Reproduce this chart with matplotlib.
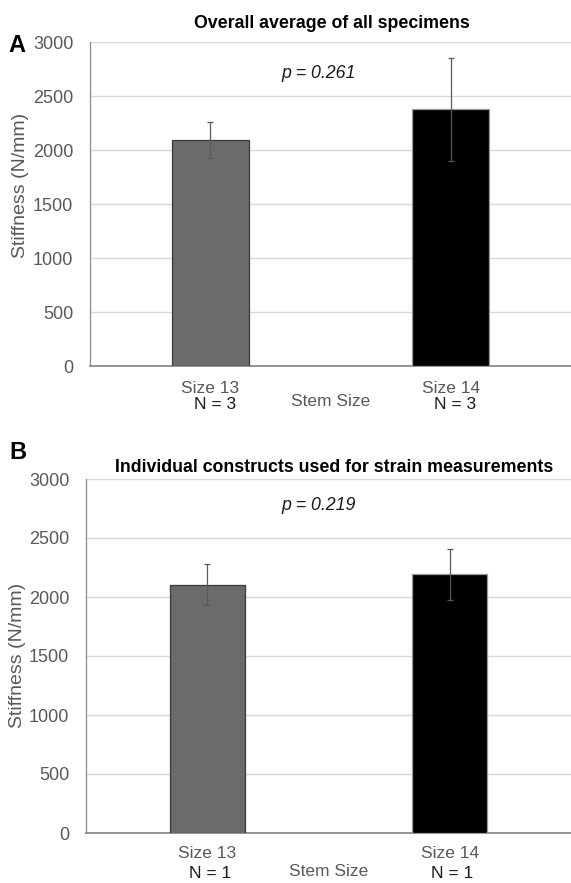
import numpy as np
import matplotlib
matplotlib.use("Agg")
import matplotlib.pyplot as plt

plt.rcParams['font.family'] = ['Liberation Sans', 'DejaVu Sans']

# --- datos ---
categorias = ["Size 13", "Size 14"]
n_a = ["N = 3", "N = 3"]
n_b = ["N = 1", "N = 1"]
rigidez_a = [2093, 2377]
error_a = [165, 475]
rigidez_b = [2104, 2191]
error_b = [175, 215]
colores = ["#6b6b6b", "#000000"]
bordes = ["#3a3a3a", "#9a9a9a"]
titulo_a = "Overall average of all specimens"
titulo_b = "Individual constructs used for strain measurements"
p_a = "p = 0.261"
p_b = "p = 0.219"

W, H = 571, 883
fig = plt.figure(figsize=(W / 100, H / 100), dpi=100)


def fx(x):
    return x / W


def fy(y):
    return 1 - y / H


gris = "#595959"


def panel(ax, valores, errores, ns, ancho, dy_size, dy_n, dx_n, dy_stem):
    x = np.arange(len(categorias))
    ax.bar(x, valores, width=ancho, color=colores, edgecolor=bordes, linewidth=0.9,
           yerr=errores, zorder=3,
           error_kw=dict(ecolor="#5a5a5a", elinewidth=0.9, capsize=2.5, capthick=0.9))
    ax.set_xlim(-0.5, 1.5)
    ax.set_ylim(0, 3000)
    ax.set_yticks(np.arange(0, 3001, 500))
    ax.yaxis.grid(True, color="#d9d9d9", linewidth=1.0)
    ax.set_axisbelow(True)
    ax.set_xticks([])
    ax.tick_params(axis='y', length=0, labelsize=13, labelcolor=gris, pad=12)
    for s in ["top", "right"]:
        ax.spines[s].set_visible(False)
    ax.spines["left"].set_color("#8c8c8c")
    ax.spines["left"].set_linewidth(0.9)
    ax.spines["bottom"].set_color("#8c8c8c")
    ax.spines["bottom"].set_linewidth(1.3)
    for i, (cat, n) in enumerate(zip(categorias, ns)):
        ax.annotate(cat, xy=(i, 0), xycoords=('data', 'axes fraction'),
                    xytext=(0, dy_size), textcoords='offset pixels',
                    ha='center', va='center', fontsize=12.5, color=gris)
        ax.annotate(n, xy=(i, 0), xycoords=('data', 'axes fraction'),
                    xytext=(dx_n if i == 0 else dx_n - 1, dy_n), textcoords='offset pixels',
                    ha='center', va='center', fontsize=12.5, color="#1a1a1a")
    ax.annotate("Stem Size", xy=(0.5, 0), xycoords='axes fraction',
                xytext=(0, dy_stem), textcoords='offset pixels',
                ha='center', va='center', fontsize=12.5, color=gris)


# Panel A
axA = fig.add_axes([fx(90), fy(366), fx(481), 324 / H])
panel(axA, rigidez_a, error_a, n_a, 0.32, -22, -38, 5, -35)

# Panel B
axB = fig.add_axes([fx(86), fy(833), fx(485), 354 / H])
panel(axB, rigidez_b, error_b, n_b, 0.31, -20, -41, 3, -39)

# textos
fig.text(fx(332), fy(23), titulo_a, ha='center', va='center', fontsize=12.8, fontweight='bold')
fig.text(fx(334), fy(467), titulo_b, ha='center', va='center', fontsize=12.8, fontweight='bold')
fig.text(fx(17), fy(46), "A", ha='center', va='center', fontsize=17, fontweight='bold')
fig.text(fx(18), fy(452), "B", ha='center', va='center', fontsize=17, fontweight='bold')
fig.text(fx(319), fy(73), p_a, ha='center', va='center', fontsize=12.8, style='italic', color="#1a1a1a")
fig.text(fx(319), fy(505), p_b, ha='center', va='center', fontsize=12.8, style='italic', color="#1a1a1a")
fig.text(fx(21), fy(185), "Stiffness (N/mm)", rotation=90, ha='center', va='center', fontsize=14, color=gris)
fig.text(fx(18), fy(655), "Stiffness (N/mm)", rotation=90, ha='center', va='center', fontsize=14, color=gris)

plt.savefig("out.png", dpi=100)
